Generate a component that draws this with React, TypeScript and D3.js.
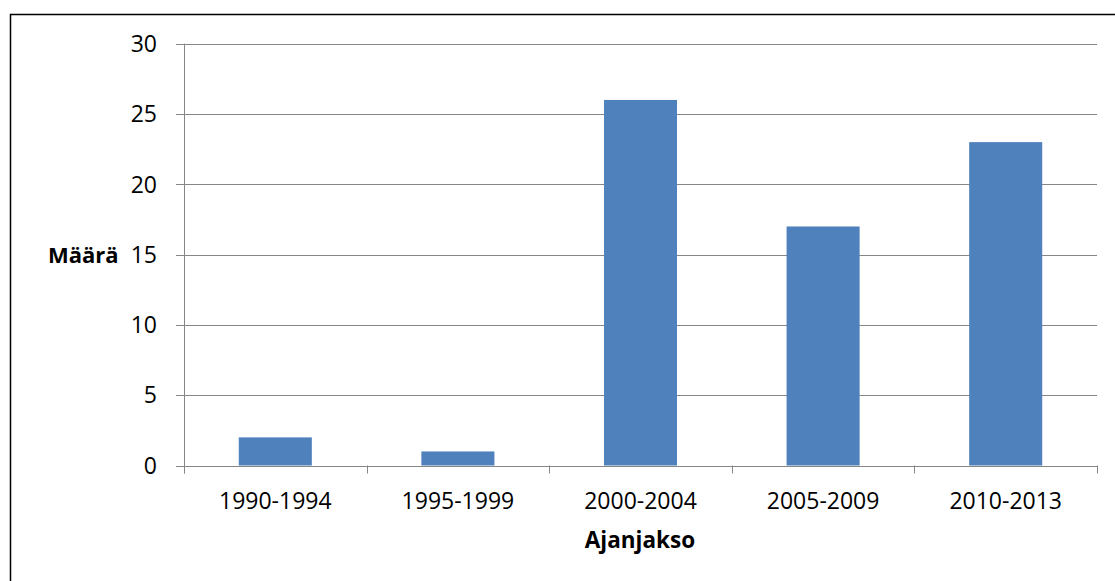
import React from 'react';
import * as d3 from 'd3';

const categories: string[] = ['1990-1994', '1995-1999', '2000-2004', '2005-2009', '2010-2013'];
const values: number[] = [2, 1, 26, 17, 23];
const yTicks: number[] = [0, 5, 10, 15, 20, 25, 30];
const yTitle = 'Määrä';
const xTitle = 'Ajanjakso';

const WIDTH = 1115;
const HEIGHT = 581;
const FONT = '"Open Sans", "DejaVu Sans", sans-serif';
const BAR_COLOR = '#4F81BD';
const GRID_COLOR = '#868686';

const plot = { left: 184, right: 1097, top: 43.7, bottom: 465.5 };

export default function App() {
  const x = d3.scaleBand<string>().domain(categories).range([plot.left, plot.right]).paddingInner(0);
  const y = d3.scaleLinear().domain([0, 30]).range([plot.bottom, plot.top]);
  const barW = x.bandwidth() * 0.4;
  const crisp = (v: number) => Math.round(v) + 0.5;

  const boundaries = categories.map((c) => x(c) as number).concat([plot.right]);

  return (
    <svg
      width={WIDTH}
      height={HEIGHT}
      style={{ position: 'absolute', left: 0, top: 0, background: '#fff' }}
      fontFamily={FONT}
    >
      {/* chart border (right/bottom fall outside the picture) */}
      <rect x={10.5} y={14.5} width={1120} height={600} fill="none" stroke="#000" strokeWidth={1.5} />

      {/* gridlines + y ticks */}
      {yTicks.map((t) => (
        <g key={t}>
          <line x1={plot.left - 8} x2={plot.right} y1={crisp(y(t))} y2={crisp(y(t))} stroke={GRID_COLOR} strokeWidth={1} />
          <text x={157} y={y(t)} dy="0.36em" textAnchor="end" fontSize={23} fill="#000">
            {t}
          </text>
        </g>
      ))}

      {/* y axis line */}
      <line x1={crisp(plot.left)} x2={crisp(plot.left)} y1={plot.top} y2={plot.bottom + 8} stroke={GRID_COLOR} strokeWidth={1} />

      {/* x ticks at band boundaries */}
      {boundaries.map((b, i) => (
        <line key={i} x1={crisp(b)} x2={crisp(b)} y1={plot.bottom} y2={plot.bottom + 8} stroke={GRID_COLOR} strokeWidth={1} />
      ))}

      {/* bars */}
      {values.map((v, i) => {
        const cx = (x(categories[i]) as number) + x.bandwidth() / 2;
        return (
          <rect
            key={categories[i]}
            x={cx - barW / 2}
            y={y(v)}
            width={barW}
            height={y(0) - y(v)}
            fill={BAR_COLOR}
          />
        );
      })}

      {/* x axis line on top of bars */}
      <line x1={plot.left} x2={plot.right} y1={crisp(y(0))} y2={crisp(y(0))} stroke={GRID_COLOR} strokeWidth={1} />

      {/* x labels */}
      {categories.map((c) => (
        <text key={c} x={(x(c) as number) + x.bandwidth() / 2} y={509} textAnchor="middle" fontSize={23} fill="#000">
          {c}
        </text>
      ))}

      {/* axis titles */}
      <text x={640} y={548} textAnchor="middle" fontSize={22.5} fontWeight="bold" fill="#000">
        {xTitle}
      </text>
      <text x={48} y={263} textAnchor="start" fontSize={22} fontWeight="bold" fill="#000">
        {yTitle}
      </text>
    </svg>
  );
}
